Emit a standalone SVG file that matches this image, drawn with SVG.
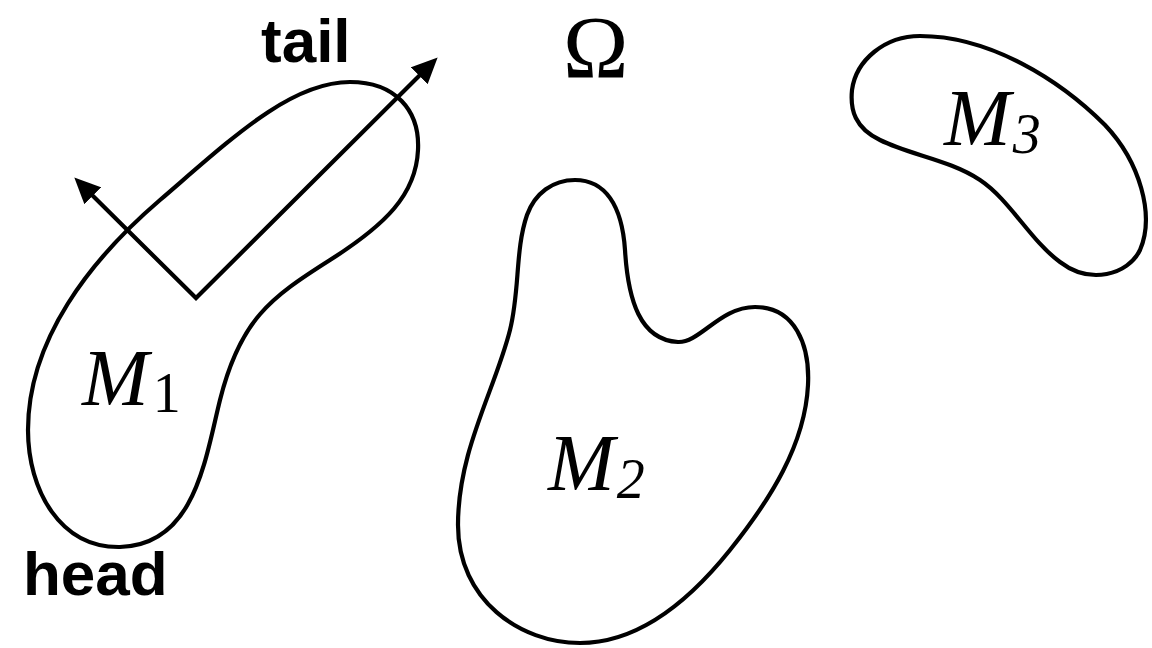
<svg xmlns="http://www.w3.org/2000/svg" width="1152" height="648" viewBox="0 0 1152 648">
<style>
.shape{fill:none;stroke:#000;stroke-width:4.2;stroke-linejoin:round}
.lbl{font-family:"Liberation Sans",Arial,sans-serif;font-weight:bold;font-size:62px;fill:#000}
.math{font-family:"Liberation Serif","Times New Roman",serif;font-style:italic;font-size:80px;fill:#000}
.sub{font-size:56px}
.up{font-style:normal}
</style>
<defs>
<marker id="ah" markerUnits="userSpaceOnUse" markerWidth="26" markerHeight="24" viewBox="0 0 24 22" refX="1" refY="11" orient="auto-start-reverse">
<path d="M0,0 L24,11 L0,22 Z" fill="#000"/>
</marker>
</defs>
<rect width="1152" height="648" fill="#fff"/>
<g id="M1">
<path class="shape" d="M 350 82 C 395 82, 420 110, 418 150 C 416 195, 385 225, 330 260 C 270 298, 240 320, 220 400 C 205 460, 195 545, 120 547 C 60 548, 28 490, 28 430 C 28 340, 90 260, 160 200 C 230 140, 290 82, 350 82 Z"/>
<text class="math" x="82" y="405">M<tspan class="sub up" dx="4" dy="7">1</tspan></text>
</g>
<g id="M2">
<path class="shape" d="M 575 180 C 605 180, 622 205, 625 250 C 628 300, 640 340, 678 342 C 700 343, 720 307, 755 307 C 795 307, 810 345, 808 385 C 805 445, 770 500, 730 550 C 690 600, 640 643, 580 643 C 520 643, 458 600, 458 525 C 458 450, 495 390, 510 330 C 520 290, 515 250, 527 215 C 535 193, 553 180, 575 180 Z"/>
<text class="math" x="548" y="490">M<tspan class="sub" dx="2" dy="8">2</tspan></text>
</g>
<g id="M3">
<path class="shape" d="M 920 36 C 990 36, 1060 80, 1105 125 C 1140 162, 1155 215, 1140 250 C 1128 275, 1090 285, 1060 262 C 1030 240, 1010 200, 980 180 C 950 160, 910 155, 880 140 C 855 128, 850 110, 852 90 C 856 60, 885 36, 920 36 Z"/>
<text class="math" x="944" y="145">M<tspan class="sub" dx="2" dy="8">3</tspan></text>
</g>
<g id="connectors">
<polyline points="92,195 196,298 420,75" fill="none" stroke="#000" stroke-width="4.2" marker-start="url(#ah)" marker-end="url(#ah)"/>
</g>
<g id="labels">
<text class="lbl" x="261" y="62">tail</text>
<text class="lbl" x="23" y="595">head</text>
<text x="563" y="77" font-family="Liberation Serif,'Times New Roman',serif" font-size="88" fill="#000">Ω</text>
</g>
</svg>
